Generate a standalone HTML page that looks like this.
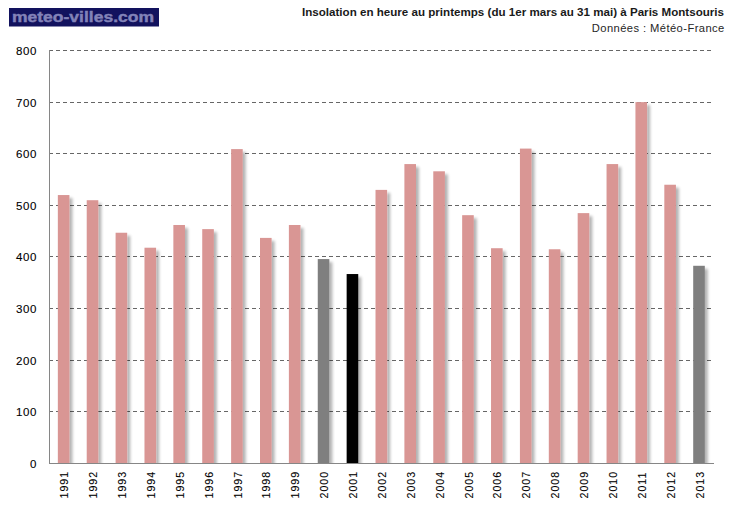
<!DOCTYPE html>
<html><head><meta charset="utf-8"><style>
html,body{margin:0;padding:0;background:#fff;}
body{width:729px;height:505px;overflow:hidden;position:relative;font-family:"Liberation Sans",sans-serif;}
svg{position:absolute;left:0;top:0;}
</style></head><body>
<svg width="729" height="505" viewBox="0 0 729 505">
<defs>
<filter id="sh" x="-30%" y="-5%" width="180%" height="120%">
<feGaussianBlur in="SourceAlpha" stdDeviation="1.7"/>
<feOffset dx="2.6" dy="3" result="b"/>
<feComponentTransfer><feFuncA type="linear" slope="0.3"/></feComponentTransfer>
<feMerge><feMergeNode/><feMergeNode in="SourceGraphic"/></feMerge>
</filter>
</defs>
<rect x="9" y="8" width="150" height="18.5" fill="#12125e"/>
<text x="12" y="22" font-family="Liberation Sans" font-weight="bold" font-size="15.5" fill="#8282b8" stroke="#8282b8" stroke-width="0.45" textLength="142" lengthAdjust="spacingAndGlyphs">meteo-villes.com</text>
<text x="724" y="16" text-anchor="end" font-family="Liberation Sans" font-weight="bold" font-size="11.6" fill="#1a1a1a">Insolation en heure au printemps (du 1er mars au 31 mai) à Paris Montsouris</text>
<text x="724.3" y="32" text-anchor="end" font-family="Liberation Sans" font-size="11.2" textLength="132.5" lengthAdjust="spacing" fill="#262626">Données : Météo-France</text>
<g stroke="#666" stroke-width="1" stroke-dasharray="4 3" fill="none">
<line x1="49" y1="411.5" x2="713" y2="411.5"/><line x1="49" y1="360.5" x2="713" y2="360.5"/><line x1="49" y1="308.5" x2="713" y2="308.5"/><line x1="49" y1="256.5" x2="713" y2="256.5"/><line x1="49" y1="205.5" x2="713" y2="205.5"/><line x1="49" y1="153.5" x2="713" y2="153.5"/><line x1="49" y1="102.5" x2="713" y2="102.5"/><line x1="49" y1="50.5" x2="713" y2="50.5"/>
</g>
<clipPath id="cp"><rect x="0" y="0" width="729" height="463.5"/></clipPath>
<g clip-path="url(#cp)"><g filter="url(#sh)">
<rect x="57.84" y="195.05" width="11.6" height="268.45" fill="#d99694"/><rect x="86.72" y="200.21" width="11.6" height="263.29" fill="#d99694"/><rect x="115.60" y="232.74" width="11.6" height="230.76" fill="#d99694"/><rect x="144.48" y="247.71" width="11.6" height="215.79" fill="#d99694"/><rect x="173.36" y="224.99" width="11.6" height="238.51" fill="#d99694"/><rect x="202.24" y="229.12" width="11.6" height="234.38" fill="#d99694"/><rect x="231.12" y="149.10" width="11.6" height="314.40" fill="#d99694"/><rect x="260.00" y="237.90" width="11.6" height="225.60" fill="#d99694"/><rect x="288.88" y="224.99" width="11.6" height="238.51" fill="#d99694"/><rect x="317.76" y="259.06" width="11.6" height="204.44" fill="#7f7f7f"/><rect x="346.64" y="274.04" width="11.6" height="189.46" fill="#000000"/><rect x="375.52" y="189.89" width="11.6" height="273.61" fill="#d99694"/><rect x="404.40" y="164.07" width="11.6" height="299.43" fill="#d99694"/><rect x="433.28" y="171.30" width="11.6" height="292.20" fill="#d99694"/><rect x="462.16" y="215.18" width="11.6" height="248.32" fill="#d99694"/><rect x="491.04" y="248.22" width="11.6" height="215.28" fill="#d99694"/><rect x="519.92" y="148.59" width="11.6" height="314.91" fill="#d99694"/><rect x="548.80" y="249.26" width="11.6" height="214.24" fill="#d99694"/><rect x="577.68" y="213.12" width="11.6" height="250.38" fill="#d99694"/><rect x="606.56" y="164.07" width="11.6" height="299.43" fill="#d99694"/><rect x="635.44" y="102.12" width="11.6" height="361.38" fill="#d99694"/><rect x="664.32" y="184.73" width="11.6" height="278.77" fill="#d99694"/><rect x="693.20" y="265.78" width="11.6" height="197.72" fill="#7f7f7f"/>
</g></g>
<line x1="49.5" y1="50" x2="49.5" y2="464" stroke="#868686" stroke-width="1"/>
<line x1="49" y1="463.5" x2="714" y2="463.5" stroke="#868686" stroke-width="1"/>
<g font-family="Liberation Sans" font-size="11.5" letter-spacing="0.6" fill="#000" stroke="#000" stroke-width="0.1">
<text x="36.9" y="467.7" text-anchor="end">0</text><text x="36.9" y="415.7" text-anchor="end">100</text><text x="36.9" y="364.7" text-anchor="end">200</text><text x="36.9" y="312.7" text-anchor="end">300</text><text x="36.9" y="260.7" text-anchor="end">400</text><text x="36.9" y="209.7" text-anchor="end">500</text><text x="36.9" y="157.7" text-anchor="end">600</text><text x="36.9" y="106.7" text-anchor="end">700</text><text x="36.9" y="54.7" text-anchor="end">800</text>
</g>
<g font-family="Liberation Sans" font-size="10.6" letter-spacing="1.0" fill="#000" stroke="#000" stroke-width="0.1">
<text transform="translate(68.2,498.5) rotate(-90)">1991</text><text transform="translate(97.1,498.5) rotate(-90)">1992</text><text transform="translate(126.0,498.5) rotate(-90)">1993</text><text transform="translate(154.9,498.5) rotate(-90)">1994</text><text transform="translate(183.8,498.5) rotate(-90)">1995</text><text transform="translate(212.6,498.5) rotate(-90)">1996</text><text transform="translate(241.5,498.5) rotate(-90)">1997</text><text transform="translate(270.4,498.5) rotate(-90)">1998</text><text transform="translate(299.3,498.5) rotate(-90)">1999</text><text transform="translate(328.2,498.5) rotate(-90)">2000</text><text transform="translate(357.0,498.5) rotate(-90)">2001</text><text transform="translate(385.9,498.5) rotate(-90)">2002</text><text transform="translate(414.8,498.5) rotate(-90)">2003</text><text transform="translate(443.7,498.5) rotate(-90)">2004</text><text transform="translate(472.6,498.5) rotate(-90)">2005</text><text transform="translate(501.4,498.5) rotate(-90)">2006</text><text transform="translate(530.3,498.5) rotate(-90)">2007</text><text transform="translate(559.2,498.5) rotate(-90)">2008</text><text transform="translate(588.1,498.5) rotate(-90)">2009</text><text transform="translate(617.0,498.5) rotate(-90)">2010</text><text transform="translate(645.8,498.5) rotate(-90)">2011</text><text transform="translate(674.7,498.5) rotate(-90)">2012</text><text transform="translate(703.6,498.5) rotate(-90)">2013</text>
</g>
</svg>
</body></html>
